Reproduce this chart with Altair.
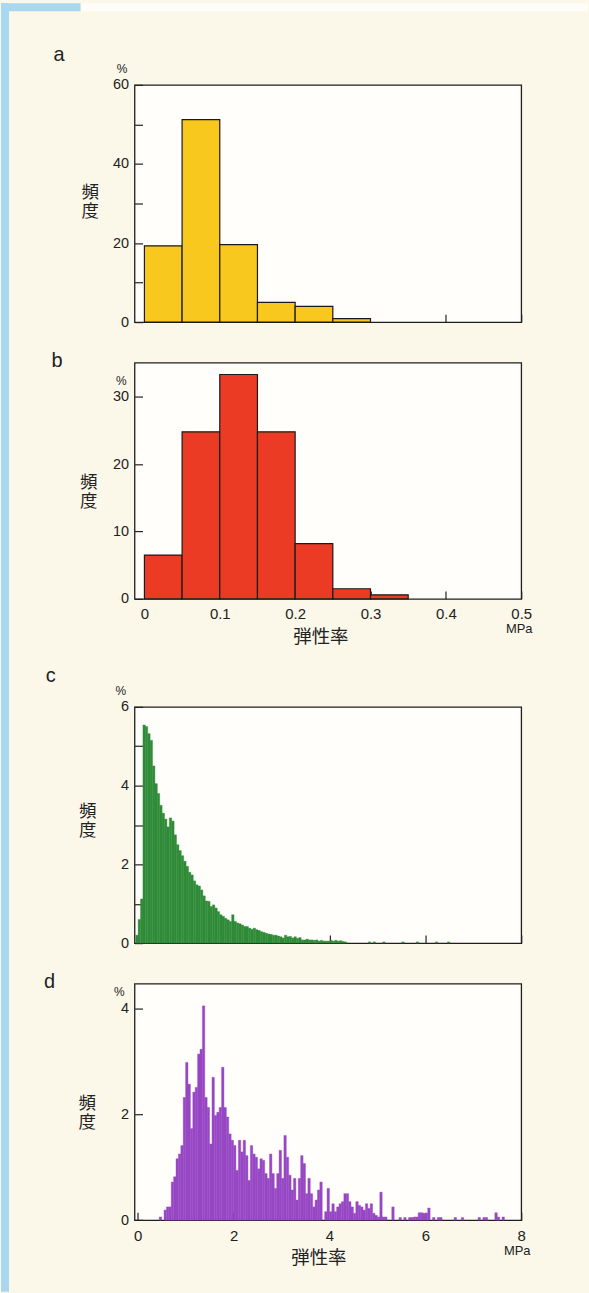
import altair as alt
import pandas as pd

# ---------------- data ----------------
# a : 0.05 MPa bins starting at these lower edges, frequency in %
A_EDGES = [0.00, 0.05, 0.10, 0.15, 0.20, 0.25]
A_FREQ = [19.3, 51.2, 19.6, 5.0, 4.0, 0.9]
# b
B_EDGES = [0.00, 0.05, 0.10, 0.15, 0.20, 0.25, 0.30]
B_FREQ = [6.5, 24.8, 33.3, 24.8, 8.2, 1.5, 0.6]
AB_BIN = 0.05

# c : fine histogram, 0.05 MPa bins from C_START
C_START = -0.04
C_FREQ = [0.2, 0.6, 1.12, 5.54, 5.5, 5.32, 5.15, 4.5, 4.05, 3.8,
          3.5, 3.3, 3.15, 2.95, 3.18, 3.1, 2.75, 2.5, 2.35, 2.22,
          2.08, 1.95, 1.8, 1.73, 1.58, 1.48, 1.45, 1.35, 1.2, 1.07,
          1.06, 0.93, 0.97, 0.89, 0.8, 0.72, 0.68, 0.63, 0.59, 0.55,
          0.72, 0.55, 0.51, 0.49, 0.46, 0.42, 0.42, 0.38, 0.35, 0.38,
          0.34, 0.32, 0.29, 0.27, 0.25, 0.23, 0.22, 0.2, 0.2, 0.18,
          0.16, 0.13, 0.2, 0.16, 0.17, 0.13, 0.16, 0.12, 0.14, 0.08,
          0.08, 0.1, 0.08, 0.08, 0.07, 0.08, 0.05, 0.07, 0.05, 0.05,
          0.05, 0.07, 0.05, 0.07, 0.05, 0.06, 0.04, 0.03,
          0, 0, 0, 0, 0, 0, 0, 0, 0, 0.03, 0, 0.03, 0, 0, 0, 0.03,
          0, 0, 0, 0, 0, 0, 0, 0.03, 0, 0, 0, 0, 0, 0.03,
          0, 0, 0, 0, 0, 0, 0, 0.03, 0, 0, 0, 0, 0.03]
# d
D_START = 0.0
D_FREQ = [0, 0, 0, 0, 0, 0, 0, 0, 0, 0.06,
          0, 0.19, 0.25, 0.25, 0.72, 0.82, 1.16, 1.25, 1.41, 2.32,
          2.98, 2.57, 1.73, 2.42, 2.51, 3.14, 3.23, 4.05, 2.32, 2.13,
          1.44, 2.7, 1.98, 2.04, 2.13, 2.89, 2.13, 1.95, 1.63, 1.51,
          1.41, 0.94, 1.51, 1.29, 1.51, 1.22, 0.75, 1.41, 1.25, 1.19,
          0.97, 1.16, 1.13, 0.88, 0.79, 1.25, 0.88, 0.6, 0.88, 1.32,
          0.79, 1.6, 1.19, 0.85, 0.57, 0.79, 0.38, 0.79, 1.22, 1.07,
          0.5, 0.79, 0.5, 0.25, 0.38, 0.57, 0.72, 0, 0.16, 0.6,
          0.16, 0.31, 0.16, 0.25, 0.31, 0.35, 0.5, 0.5, 0.35, 0.25,
          0.13, 0.35, 0.28, 0.25, 0.19, 0.31, 0.22, 0.31, 0.13, 0.09,
          0.06, 0.53, 0.06, 0.06, 0, 0, 0.25, 0, 0, 0.05,
          0, 0.05, 0, 0.05, 0.05, 0.06, 0.06, 0.14, 0.14, 0.13,
          0.13, 0.23, 0, 0.05, 0, 0.05, 0.05, 0, 0, 0,
          0, 0, 0.05, 0, 0, 0.05, 0, 0, 0, 0,
          0, 0, 0.05, 0, 0.05, 0.05, 0, 0, 0, 0.14,
          0.06, 0, 0.06]
CD_BIN = 0.05

A_XTICKS = [0, 0.1, 0.2, 0.4, 0.5]
B_XTICKS = [0, 0.1, 0.2, 0.3, 0.4, 0.5]
CD_XTICKS = [0, 2, 4, 6, 8]
A_YTICKS = [0, 10, 20, 30, 40, 50, 60]
B_YTICKS = [0, 10, 20, 30]
C_YTICKS = [0, 1, 2, 3, 4, 5, 6]
D_YTICKS = [0, 2, 4]

Y_TITLE = ["頻", "度"]
X_TITLE = "弾性率"
UNIT = "MPa"

# ---------------- style ----------------
FONT = "Liberation Sans"
CJK = "Noto Sans CJK JP"
INK = "#222222"
BG = "#FBF8EA"
PLOT_W = 388

YELLOW = "#F9C81E"
RED = "#EC3B24"
GREEN = "#2F8B37"
PURPLE = "#9747C4"


def hist_df(starts, width, freq):
    rows = []
    for s, f in zip(starts, freq):
        if f > 0:
            rows.append({"x0": s, "x1": s + width, "f": f})
    return pd.DataFrame(rows)


def txt(s, x, y, size, font=FONT, align="left", baseline="alphabetic"):
    return alt.Chart(alt.Data(values=[{"t": s}])).mark_text(
        align=align, baseline=baseline, font=font, fontSize=size, color=INK
    ).encode(x=alt.value(x), y=alt.value(y), text="t:N")


def ytitle(x, y):
    # two stacked characters of the vertical axis title
    return [txt(Y_TITLE[0], x, y, 17.5, font=CJK, align="center"),
            txt(Y_TITLE[1], x, y + 19, 17.5, font=CJK, align="center")]


def rect(x, x2, y, y2, color):
    return alt.Chart(alt.Data(values=[{"k": 0}])).mark_rect(color=color).encode(
        x=alt.value(x), x2=alt.value(x2), y=alt.value(y), y2=alt.value(y2)
    )


def panel(df, xdom, ydom, color, outlined, xticks, yticks, ylabel_every, show_xlabels):
    if outlined:
        mk = alt.Chart(df).mark_rect(fill=color, stroke="#1a1a1a", strokeWidth=1.2)
    else:
        mk = alt.Chart(df).mark_rect(fill=color, stroke=color, strokeWidth=0.4)
    xaxis = alt.Axis(values=xticks, tickSize=8, offset=-8, domain=False, grid=False,
                     labels=show_xlabels, labelPadding=8, labelFontSize=15,
                     labelFont=FONT, labelColor=INK, labelFlush=False, format="~g",
                     tickColor=INK, tickWidth=1.2, zindex=0, title=None)
    yaxis = alt.Axis(values=yticks, tickSize=8, offset=-8, domain=False, grid=False,
                     labelExpr=f"datum.value % {ylabel_every} === 0 ? datum.label : ''",
                     labelPadding=6, labelFontSize=14.5, labelFont=FONT, labelColor=INK,
                     tickColor=INK, tickWidth=1.2, zindex=0, title=None)
    return mk.encode(
        x=alt.X("x0:Q", scale=alt.Scale(domain=xdom, nice=False, zero=False), axis=xaxis),
        x2="x1",
        y=alt.Y("f:Q", scale=alt.Scale(domain=ydom, nice=False), axis=yaxis),
        y2=alt.datum(0),
    )


a_df = hist_df(A_EDGES, AB_BIN, A_FREQ)
b_df = hist_df(B_EDGES, AB_BIN, B_FREQ)
c_df = hist_df([C_START + i * CD_BIN for i in range(len(C_FREQ))], CD_BIN, C_FREQ)
d_df = hist_df([D_START + i * CD_BIN for i in range(len(D_FREQ))], CD_BIN, D_FREQ)

AB_DOM = [-0.0131, 0.5]
CD_DOM = [-0.065, 8]

HA, HB, HC, HD = 238, 237, 237, 237.3
SPACING = 40.7
SPACER_H = 26.6

# panel a (also carries the page decorations: blue strip, top band)
pa = alt.layer(
    rect(-134, -126, -82, 1211, "#A9D7F0"),
    rect(-134, -54, -82, -74, "#A9D7F0"),
    rect(-54, 455, -82, -74, "#FEFDF7"),
    panel(a_df, AB_DOM, [0, 60], YELLOW, True, A_XTICKS, A_YTICKS, 20, False),
    txt("a", -81.4, -23.7, 20),
    txt("%", -12.5, -12, 12, align="center"),
    *ytitle(-44.4, 113.7),
).properties(width=PLOT_W, height=HA)

pb = alt.layer(
    panel(b_df, AB_DOM, [0, 35.06], RED, True, B_XTICKS, B_YTICKS, 10, True),
    txt("b", -83.3, 4.3, 20),
    txt("%", -13.2, 22, 12, align="center"),
    *ytitle(-46, 125.9),
    txt(UNIT, 386, 271, 13, align="center"),
    txt(X_TITLE, 187, 281.3, 18.5, font=CJK, align="center"),
).properties(width=PLOT_W, height=HB)

spacer = alt.Chart(alt.Data(values=[{"k": 0}])).mark_point(opacity=0).encode(
    x=alt.value(0), y=alt.value(0)
).properties(width=PLOT_W, height=SPACER_H,
             view=alt.ViewBackground(stroke="transparent", fill="transparent"))

pc = alt.layer(
    panel(c_df, CD_DOM, [0, 6], GREEN, False, CD_XTICKS, C_YTICKS, 2, False),
    txt("c", -89, -25, 20),
    txt("%", -13.8, -12.4, 12, align="center"),
    *ytitle(-47, 110.9),
).properties(width=PLOT_W, height=HC)

pd_ = alt.layer(
    panel(d_df, CD_DOM, [0, 4.47], PURPLE, False, CD_XTICKS, D_YTICKS, 2, True),
    txt("d", -90.8, 4, 20),
    txt("%", -15.3, 12.3, 12, align="center"),
    *ytitle(-47.5, 125.6),
    txt(UNIT, 384, 272.3, 13, align="center"),
    txt(X_TITLE, 185, 280.9, 18.5, font=CJK, align="center"),
).properties(width=PLOT_W, height=HD)

chart = alt.vconcat(
    pa, pb, spacer, pc, pd_, spacing=SPACING, bounds="flush"
).resolve_scale(x="independent", y="independent").properties(
    padding=0, background=BG
).configure_view(
    stroke="#1e1e1e", strokeWidth=1.3, fill="#FFFEFB"
)

chart.save("out.html", embed_options={"renderer": "svg", "actions": False})
